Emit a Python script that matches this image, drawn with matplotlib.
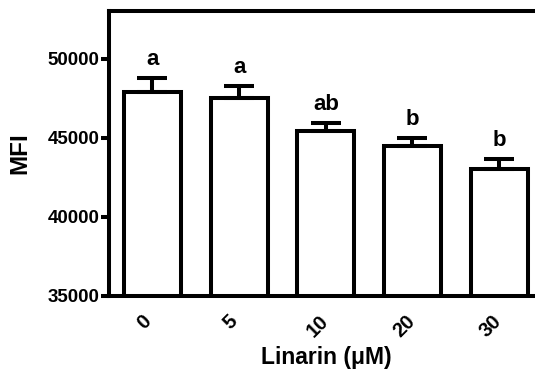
import matplotlib.pyplot as plt
from matplotlib.transforms import ScaledTranslation

# Linarin dose vs mean fluorescence intensity
doses = ['0', '5', '10', '20', '30']
mfi = [47900, 47500, 45450, 44500, 43000]
sem = [850, 750, 450, 450, 650]
letters = ['a', 'a', 'ab', 'b', 'b']

plt.rcParams['font.family'] = ['Liberation Sans', 'DejaVu Sans']
plt.rcParams['font.weight'] = 'bold'

fig = plt.figure(figsize=(5.35, 3.69), dpi=100)
# the original figure is cropped on the right, so the axes run past the edge
ax = fig.add_axes([0.204, 0.198, 0.81, 0.772])

lw = 2.9
x = range(len(doses))
ax.bar(x, mfi, width=0.66, color='white', edgecolor='black', linewidth=lw)
ax.errorbar(x, mfi, yerr=[[0] * len(sem), sem], fmt='none', ecolor='black',
            elinewidth=lw, capsize=11, capthick=lw)

for i, (m, s, lab) in enumerate(zip(mfi, sem, letters)):
    ax.annotate(lab, (i, m + s), xytext=(0, 6), textcoords='offset points',
                ha='center', va='bottom', fontsize=16, fontweight='bold')

ax.set_xlim(-0.5, 4.5)
ax.set_ylim(35000, 53000)
ax.set_yticks([35000, 40000, 45000, 50000])
ax.set_xticks(list(x))
ax.set_xticklabels(doses, rotation=45, ha='center', fontsize=14.5, fontweight='bold')
ax.tick_params(axis='y', labelsize=13.5, width=lw, length=6, pad=1)
ax.tick_params(axis='x', length=0, pad=11)
shift = ScaledTranslation(-6 / 72, 0, fig.dpi_scale_trans)
for t in ax.get_xticklabels():
    t.set_transform(t.get_transform() + shift)

for side in ['left', 'bottom', 'top']:
    ax.spines[side].set_linewidth(lw)
ax.spines['right'].set_visible(False)

ax.set_ylabel('MFI', fontsize=17.5, fontweight='bold', labelpad=12)
ax.set_xlabel('Linarin (\u03bcM)', fontsize=16.5, fontweight='bold', labelpad=4)

fig.savefig('out.png', dpi=100)
